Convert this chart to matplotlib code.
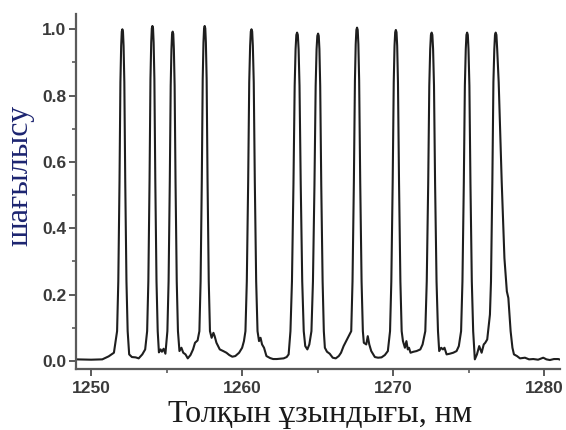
import matplotlib
matplotlib.use("Agg")
import matplotlib.pyplot as plt
from matplotlib.ticker import MultipleLocator, FormatStrFormatter

# Traced spectrum (wavelength nm, normalized reflection)
wavelength = [
    1249.0, 1250.0, 1250.74, 1251.16, 1251.51,
    # peak 1
    1251.72, 1251.80, 1251.88, 1251.94, 1251.99, 1252.03, 1252.07, 1252.11, 1252.15, 1252.20, 1252.26, 1252.34, 1252.42, 1252.52,
    1252.70, 1252.95, 1253.15, 1253.39, 1253.58,
    # peak 2
    1253.71, 1253.79, 1253.87, 1253.93, 1253.98, 1254.02, 1254.06, 1254.10, 1254.14, 1254.19, 1254.25, 1254.33, 1254.41,
    1254.49, 1254.60, 1254.69, 1254.80, 1254.92,
    # peak 3
    1255.05, 1255.13, 1255.21, 1255.27, 1255.32, 1255.36, 1255.40, 1255.44, 1255.48, 1255.53, 1255.59, 1255.67, 1255.75,
    1255.85, 1255.98, 1256.10, 1256.25, 1256.40, 1256.58, 1256.75, 1256.88, 1257.05,
    # peak 4
    1257.17, 1257.25, 1257.33, 1257.39, 1257.44, 1257.48, 1257.52, 1257.56, 1257.60, 1257.65, 1257.71, 1257.79, 1257.87,
    1257.98, 1258.10, 1258.18, 1258.30, 1258.52, 1258.75, 1258.96, 1259.15, 1259.35, 1259.55, 1259.80, 1260.00, 1260.12,
    # peak 5
    1260.22, 1260.31, 1260.40, 1260.47, 1260.53, 1260.574, 1260.62, 1260.666, 1260.71, 1260.77, 1260.84, 1260.93, 1261.02,
    1261.12, 1261.22, 1261.32, 1261.45, 1261.61, 1261.85, 1262.05, 1262.30, 1262.50, 1262.75, 1262.95, 1263.08,
    # peak 6
    1263.20, 1263.30, 1263.40, 1263.48, 1263.54, 1263.59, 1263.64, 1263.69, 1263.74, 1263.80, 1263.88, 1263.98, 1264.08,
    1264.18, 1264.32, 1264.45,
    # peak 7
    1264.59, 1264.69, 1264.79, 1264.87, 1264.93, 1264.98, 1265.03, 1265.074, 1265.118, 1265.17, 1265.24, 1265.33, 1265.41,
    1265.48, 1265.62, 1265.80, 1266.00, 1266.20, 1266.40, 1266.55, 1266.72,
    # peak 8
    1267.225, 1267.31, 1267.40, 1267.47, 1267.522, 1267.566, 1267.61, 1267.654, 1267.698, 1267.75, 1267.82, 1267.91, 1267.995,
    1268.06, 1268.22, 1268.32, 1268.42, 1268.55, 1268.79, 1269.00, 1269.23, 1269.45, 1269.65,
    # peak 9
    1269.795, 1269.88, 1269.97, 1270.04, 1270.092, 1270.136, 1270.18, 1270.224, 1270.268, 1270.32, 1270.39, 1270.48, 1270.565,
    1270.65, 1270.78, 1270.88, 1270.97, 1271.05, 1271.15, 1271.35, 1271.55, 1271.80, 1271.95,
    # peak 10
    1272.13, 1272.226, 1272.322, 1272.394, 1272.454, 1272.502, 1272.55, 1272.598, 1272.646, 1272.706, 1272.778, 1272.874, 1272.97,
    1273.05, 1273.18, 1273.30, 1273.40, 1273.54, 1273.75, 1273.98, 1274.20, 1274.35,
    # peak 11
    1274.50, 1274.59, 1274.68, 1274.75, 1274.81, 1274.854, 1274.90, 1274.946, 1274.99, 1275.05, 1275.12, 1275.21, 1275.30,
    1275.41, 1275.55, 1275.70, 1275.86, 1276.00, 1276.10, 1276.23,
    # peak 12
    1276.41, 1276.48, 1276.57, 1276.64, 1276.70, 1276.745, 1276.79, 1276.84, 1276.89, 1276.99, 1277.19, 1277.37, 1277.50,
    1277.53, 1277.63, 1277.78, 1277.90, 1278.00, 1278.20, 1278.40, 1278.73, 1279.00, 1279.28, 1279.60,
    1279.94, 1280.15, 1280.38, 1280.65, 1280.93, 1281.0,
]

reflection = [
    0.005, 0.004, 0.005, 0.014, 0.025,
    0.09, 0.24, 0.54, 0.84, 0.95, 0.993, 1.00, 0.993, 0.95, 0.84, 0.54, 0.24, 0.09, 0.02,
    0.012, 0.011, 0.008, 0.020, 0.035,
    0.09, 0.24, 0.545, 0.85, 0.96, 1.003, 1.01, 1.003, 0.96, 0.85, 0.545, 0.24, 0.09,
    0.026, 0.035, 0.028, 0.037, 0.022,
    0.09, 0.24, 0.54, 0.83, 0.94, 0.986, 0.993, 0.986, 0.94, 0.83, 0.54, 0.24, 0.09,
    0.03, 0.04, 0.025, 0.02, 0.008, 0.018, 0.035, 0.055, 0.062,
    0.09, 0.24, 0.545, 0.85, 0.96, 1.003, 1.01, 1.003, 0.96, 0.85, 0.545, 0.24, 0.09,
    0.07, 0.085, 0.075, 0.055, 0.035, 0.03, 0.025, 0.018, 0.013, 0.015, 0.025, 0.04, 0.06,
    0.09, 0.24, 0.54, 0.84, 0.95, 0.993, 1.00, 0.993, 0.95, 0.84, 0.54, 0.24, 0.09,
    0.06, 0.07, 0.05, 0.04, 0.015, 0.009, 0.006, 0.006, 0.007, 0.008, 0.012, 0.02,
    0.09, 0.24, 0.535, 0.83, 0.94, 0.983, 0.99, 0.983, 0.94, 0.83, 0.535, 0.24, 0.09,
    0.045, 0.035, 0.05,
    0.09, 0.24, 0.53, 0.83, 0.94, 0.98, 0.987, 0.98, 0.94, 0.83, 0.53, 0.24, 0.09,
    0.04, 0.028, 0.022, 0.01, 0.008, 0.015, 0.025, 0.045,
    0.09, 0.24, 0.54, 0.845, 0.955, 0.998, 1.005, 0.998, 0.955, 0.845, 0.54, 0.24, 0.09,
    0.055, 0.05, 0.075, 0.05, 0.03, 0.012, 0.01, 0.011, 0.018, 0.03,
    0.09, 0.24, 0.54, 0.84, 0.95, 0.991, 0.998, 0.991, 0.95, 0.84, 0.54, 0.24, 0.09,
    0.06, 0.04, 0.06, 0.035, 0.04, 0.025, 0.028, 0.03, 0.035, 0.05,
    0.09, 0.24, 0.535, 0.83, 0.94, 0.983, 0.99, 0.983, 0.94, 0.83, 0.535, 0.24, 0.09,
    0.03, 0.04, 0.035, 0.04, 0.02, 0.022, 0.025, 0.03, 0.045,
    0.09, 0.24, 0.535, 0.83, 0.94, 0.983, 0.99, 0.983, 0.94, 0.83, 0.535, 0.24, 0.09,
    0.005, 0.02, 0.045, 0.025, 0.05, 0.055, 0.065,
    0.14, 0.24, 0.54, 0.84, 0.94, 0.983, 0.99, 0.983, 0.94, 0.84, 0.54, 0.31, 0.23,
    0.21, 0.19, 0.09, 0.04, 0.02, 0.015, 0.008, 0.01, 0.005, 0.006, 0.004,
    0.01, 0.005, 0.003, 0.006, 0.006, 0.005,
]

x_major_ticks = [1250, 1260, 1270, 1280]
y_major_ticks = [0.0, 0.2, 0.4, 0.6, 0.8, 1.0]
x_label = "Толқын ұзындығы, нм"
y_label = "шағылысу"

fig = plt.figure(figsize=(5.66, 4.30), dpi=100)
ax = fig.add_axes([0.1343, 0.1419, 0.8551, 0.8255])

ax.plot(wavelength, reflection, color="#1e1e1e", linewidth=1.5, solid_joinstyle="round")

ax.set_xlim(1249.0, 1281.05)
ax.set_ylim(-0.024, 1.046)

spine_color = "#5a5a5a"
for side in ("top", "right"):
    ax.spines[side].set_visible(False)
for side in ("left", "bottom"):
    ax.spines[side].set_color(spine_color)
    ax.spines[side].set_linewidth(1.6)

ax.set_xticks(x_major_ticks)
ax.set_yticks(y_major_ticks)
ax.xaxis.set_minor_locator(MultipleLocator(5))
ax.yaxis.set_minor_locator(MultipleLocator(0.1))
ax.yaxis.set_major_formatter(FormatStrFormatter("%.1f"))

ax.tick_params(axis="both", which="major", direction="out", length=5, width=1.4,
               color=spine_color, labelcolor="#3a3a3a", pad=2)
ax.tick_params(axis="both", which="minor", direction="out", length=3, width=1.2,
               color=spine_color)
ax.tick_params(axis="x", which="major", pad=4)
for lab in ax.get_xticklabels() + ax.get_yticklabels():
    lab.set_fontfamily("Liberation Sans")
    lab.set_fontweight("bold")
    lab.set_fontsize(12.5)

ax.set_xlabel(x_label, fontfamily="Liberation Serif", fontsize=23, color="#1a1a1a")
ax.set_ylabel(y_label, fontfamily="Liberation Serif", fontsize=23, color="#1c2470")

ax.xaxis.set_label_coords(0.504, -0.088)
ax.yaxis.set_label_coords(-0.085, 0.544)

fig.savefig("out.png", dpi=100)
